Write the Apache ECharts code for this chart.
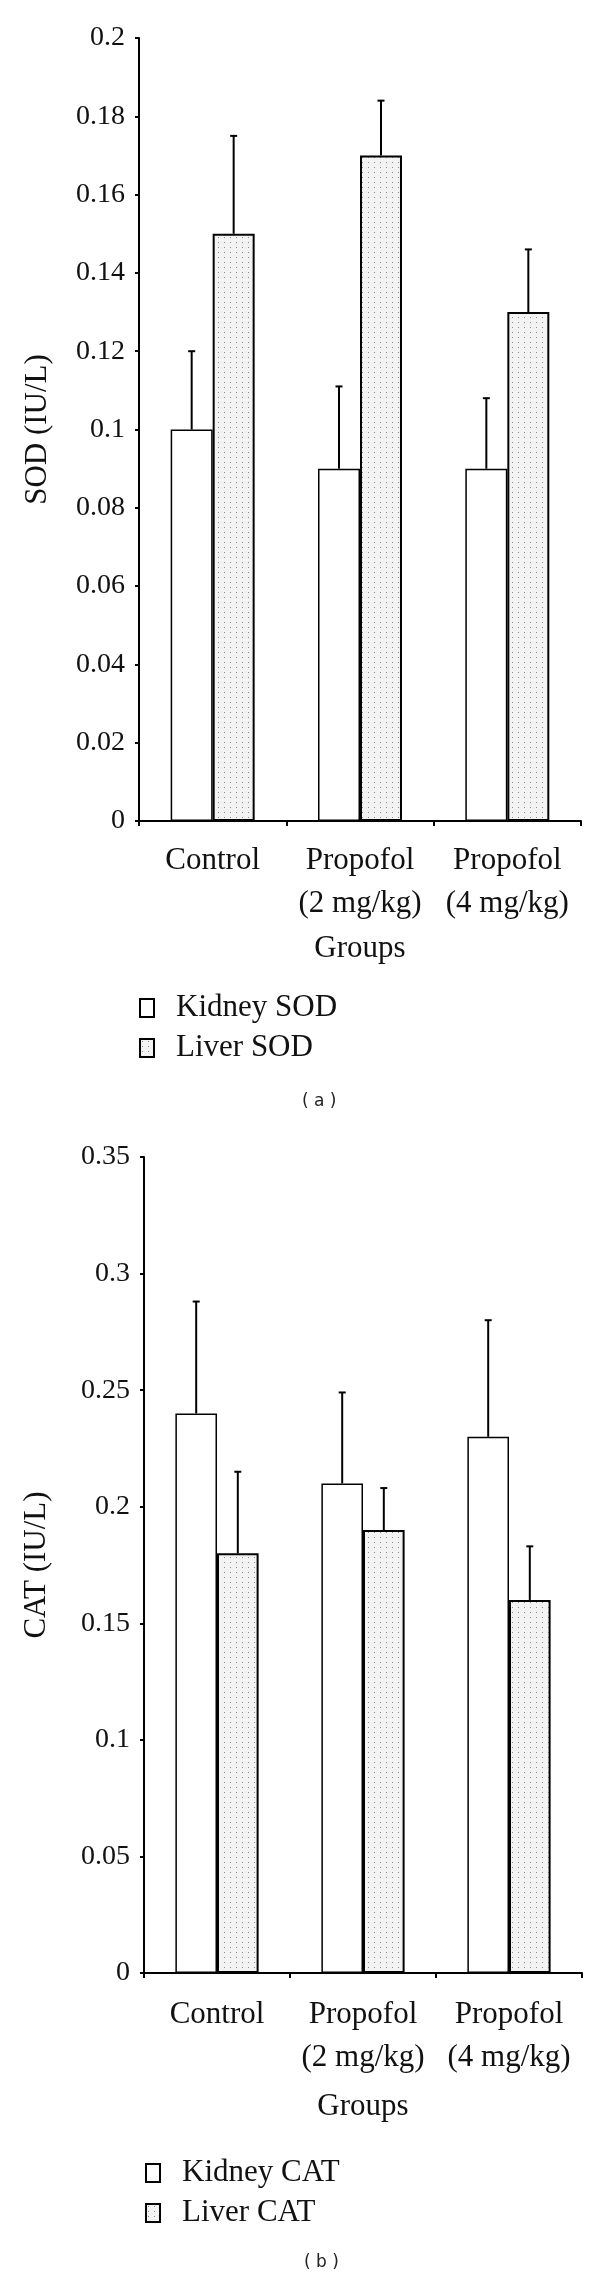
<!DOCTYPE html>
<html>
<head>
<meta charset="utf-8">
<script src="https://cdn.jsdelivr.net/npm/echarts@6/dist/echarts.min.js"></script>
<style>
  html, body { margin: 0; padding: 0; background: #fff; }
  #chart { width: 600px; height: 2280px; }
</style>
</head>
<body>
<div id="chart"></div>
<script>
// ---- Data ----
const categories = ['Control', 'Propofol\n(2 mg/kg)', 'Propofol\n(4 mg/kg)'];

const sodKidney   = [0.100, 0.090, 0.090];
const sodKidneySD = [0.020, 0.021, 0.018];
const sodLiver    = [0.150, 0.170, 0.130];
const sodLiverSD  = [0.025, 0.014, 0.016];

const catKidney   = [0.240, 0.210, 0.230];
const catKidneySD = [0.048, 0.039, 0.050];
const catLiver    = [0.180, 0.190, 0.160];
const catLiverSD  = [0.035, 0.018, 0.023];

const sodTicks = { min: 0, max: 0.2, interval: 0.02 };
const catTicks = { min: 0, max: 0.35, interval: 0.05 };

// ---- Styling helpers ----
const SERIF = 'Liberation Serif';
const GAP = 0.43;                       // bar category gap fraction
const BAR_FRAC = (1 - GAP) / 2;         // each bar width as fraction of band

function dotPattern() {
  const c = document.createElement('canvas');
  c.width = 6; c.height = 5;
  const ctx = c.getContext('2d');
  ctx.fillStyle = '#f3f3f3';
  ctx.fillRect(0, 0, 6, 5);
  ctx.fillStyle = '#8a8a8a';
  ctx.fillRect(2, 2, 1, 1);
  return c;
}
const pattern = { image: dotPattern(), repeat: 'repeat' };

function errData(means, sds) {
  return means.map((m, i) => [i, m, m + sds[i]]);
}

function errSeries(means, sds, side, axisIdx) {
  return {
    type: 'custom',
    xAxisIndex: axisIdx, yAxisIndex: axisIdx,
    z: 10,
    silent: true,
    data: errData(means, sds),
    renderItem: function (params, api) {
      const idx = api.value(0);
      const p0 = api.coord([idx, api.value(1)]);
      const p1 = api.coord([idx, api.value(2)]);
      const bw = api.size([1, 0])[0];
      const x = p0[0] + side * bw * BAR_FRAC / 2;
      const st = { stroke: '#000', lineWidth: 2 };
      return {
        type: 'group',
        children: [
          { type: 'line', shape: { x1: x, y1: p0[1], x2: x, y2: p1[1] }, style: st },
          { type: 'line', shape: { x1: x - 3.5, y1: p1[1], x2: x + 3.5, y2: p1[1] }, style: st }
        ]
      };
    }
  };
}

function xAxisCfg(gridIndex, nameGap, margin) {
  return {
    type: 'category', gridIndex: gridIndex, data: categories,
    boundaryGap: true,
    name: 'Groups', nameLocation: 'middle', nameGap: nameGap,
    nameTextStyle: { fontFamily: SERIF, fontSize: 31, color: '#111', verticalAlign: 'middle' },
    axisLine: { show: true, lineStyle: { color: '#000', width: 2 } },
    axisTick: { show: true, inside: false, length: 5, lineStyle: { color: '#000', width: 2 } },
    axisLabel: { interval: 0, hideOverlap: false, fontFamily: SERIF, fontSize: 31, color: '#111', lineHeight: 43, margin: margin },
    splitLine: { show: false }
  };
}

function yAxisCfg(gridIndex, ticks, name, nameGap) {
  return {
    type: 'value', gridIndex: gridIndex,
    min: ticks.min, max: ticks.max, interval: ticks.interval,
    name: name, nameLocation: 'middle', nameGap: nameGap,
    nameTextStyle: { fontFamily: SERIF, fontSize: 31, color: '#111', verticalAlign: 'middle' },
    axisLine: { show: true, lineStyle: { color: '#000', width: 2 } },
    axisTick: { show: true, inside: false, length: 4, lineStyle: { color: '#000', width: 2 } },
    axisLabel: { fontFamily: SERIF, fontSize: 28, color: '#111', margin: 14 },
    splitLine: { show: false }
  };
}

function barSeries(name, data, axisIdx, liver) {
  return {
    name: name, type: 'bar', xAxisIndex: axisIdx, yAxisIndex: axisIdx,
    data: data,
    barCategoryGap: (GAP * 100) + '%', barGap: '0%',
    itemStyle: liver
      ? { color: pattern, borderColor: '#000', borderWidth: 2 }
      : { color: '#fff', borderColor: '#000', borderWidth: 1.5 },
    emphasis: { disabled: true }
  };
}

function legendCfg(names, left, top) {
  return {
    data: names, orient: 'vertical', left: left, top: top,
    padding: 0, itemGap: 4, itemWidth: 14, itemHeight: 18,
    icon: 'rect', selectedMode: false,
    textStyle: { fontFamily: SERIF, fontSize: 31, color: '#111', lineHeight: 36, padding: [0, 0, 0, 17] }
  };
}

const chart = echarts.init(document.getElementById('chart'), null, { renderer: 'canvas' });
chart.setOption({
  animation: false,
  backgroundColor: '#fff',
  grid: [
    { left: 139, right: 19, top: 38, height: 783 },
    { left: 144, right: 18, top: 1157, height: 816 }
  ],
  xAxis: [xAxisCfg(0, 128, 18), xAxisCfg(1, 134, 20)],
  yAxis: [yAxisCfg(0, sodTicks, 'SOD (IU/L)', 101), yAxisCfg(1, catTicks, 'CAT (IU/L)', 107)],
  legend: [
    legendCfg(['Kidney SOD', 'Liver SOD'], 139, 990),
    legendCfg(['Kidney CAT', 'Liver CAT'], 145, 2155)
  ],
  graphic: [
    { type: 'text', left: 302, top: 1093, style: { text: '( a )', font: '17px "DejaVu Sans"', fill: '#222' } },
    { type: 'text', left: 304, top: 2254, style: { text: '( b )', font: '17px "DejaVu Sans"', fill: '#222' } }
  ],
  series: [
    barSeries('Kidney SOD', sodKidney, 0, false),
    barSeries('Liver SOD', sodLiver, 0, true),
    errSeries(sodKidney, sodKidneySD, -1, 0),
    errSeries(sodLiver, sodLiverSD, 1, 0),
    barSeries('Kidney CAT', catKidney, 1, false),
    barSeries('Liver CAT', catLiver, 1, true),
    errSeries(catKidney, catKidneySD, -1, 1),
    errSeries(catLiver, catLiverSD, 1, 1)
  ]
});
</script>
</body>
</html>
